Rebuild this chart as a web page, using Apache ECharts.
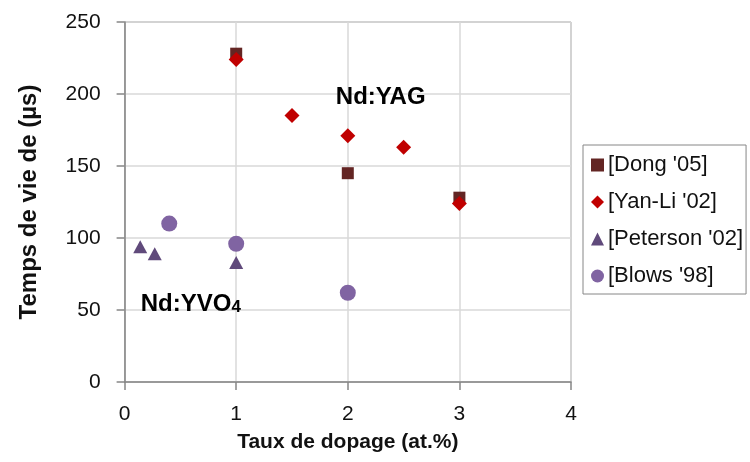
<!DOCTYPE html>
<html>
<head>
<meta charset="utf-8">
<title>Durée de vie de fluorescence</title>
<script src="https://cdn.jsdelivr.net/npm/echarts@6/dist/echarts.min.js"></script>
<style>
  html, body { margin: 0; padding: 0; background: #fff; }
  #chart { width: 750px; height: 462px; }
</style>
</head>
<body>
<div id="chart"></div>
<script>
// Lifetime (µs) versus Nd doping level (at.%)
const dongX = [1, 2, 3];
const dongY = [228, 145, 128];

const yanLiX = [1, 1.5, 2, 2.5, 3];
const yanLiY = [224, 185, 171, 163, 124];

const petersonX = [0.14, 0.27, 1];
const petersonY = [94, 89, 83];

const blowsX = [0.4, 1, 2];
const blowsY = [110, 96, 62];

const seriesNames = ["[Dong '05]", "[Yan-Li '02]", "[Peterson '02]", "[Blows '98]"];

const xTicks = [0, 1, 2, 3, 4];
const yTicks = [0, 50, 100, 150, 200, 250];

// Crystal labels placed in data coordinates
const crystalNames = ['Nd:YAG', 'Nd:YVO'];
const crystalX = [2.295, 0.145];
const crystalY = [198, 54];

const pairs = (xs, ys) => xs.map((x, i) => [x, ys[i]]);

const FONT = '"Liberation Sans", Arial, sans-serif';
const AXIS_GRAY = '#868686';
const TEXT = '#111111';

const chart = echarts.init(document.getElementById('chart'), null, { renderer: 'canvas' });

chart.setOption({
  animation: false,
  backgroundColor: '#ffffff',
  textStyle: { fontFamily: FONT, color: TEXT },
  grid: {
    left: 124.6, right: 179, top: 22, bottom: 80,
    show: true, borderColor: AXIS_GRAY, borderWidth: 1, backgroundColor: 'transparent'
  },
  legend: {
    data: seriesNames,
    orient: 'vertical',
    left: 583, top: 145,
    padding: [9, 3, 7, 8],
    itemGap: 15,
    itemWidth: 13, itemHeight: 13,
    borderColor: AXIS_GRAY, borderWidth: 1,
    selectedMode: false,
    textStyle: { fontFamily: FONT, fontSize: 22, color: TEXT, padding: [0, 0, 0, -1] }
  },
  xAxis: {
    type: 'value',
    min: xTicks[0], max: xTicks[xTicks.length - 1], interval: 1,
    name: 'Taux de dopage (at.%)',
    nameLocation: 'middle',
    nameGap: 50,
    nameTextStyle: { fontFamily: FONT, fontSize: 21, fontWeight: 'bold', color: TEXT },
    axisLine: { show: true, lineStyle: { color: AXIS_GRAY, width: 1.5 } },
    axisTick: { show: true, length: 8, lineStyle: { color: AXIS_GRAY, width: 1.5 } },
    axisLabel: { margin: 22, fontSize: 21, color: TEXT, fontFamily: FONT,
      formatter: v => xTicks.includes(v) ? String(v) : '' },
    splitLine: { show: true, lineStyle: { color: '#d9d9d9', width: 1.5 } }
  },
  yAxis: {
    type: 'value',
    min: yTicks[0], max: yTicks[yTicks.length - 1], interval: 50,
    name: 'Temps de vie de (µs)',
    nameLocation: 'middle',
    nameGap: 83,
    nameTextStyle: { fontFamily: FONT, fontSize: 24, fontWeight: 'bold', color: TEXT },
    axisLine: { show: true, lineStyle: { color: AXIS_GRAY, width: 1.5 } },
    axisTick: { show: true, length: 8, lineStyle: { color: AXIS_GRAY, width: 1.5 } },
    axisLabel: { margin: 24, fontSize: 21, color: TEXT, fontFamily: FONT,
      formatter: v => yTicks.includes(v) ? String(v) : '' },
    splitLine: { show: true, lineStyle: { color: '#d9d9d9', width: 1.5 } }
  },
  series: [
    {
      name: seriesNames[0], type: 'scatter', symbol: 'rect', symbolSize: 12,
      itemStyle: { color: '#632523', opacity: 1 }, data: pairs(dongX, dongY), z: 2
    },
    {
      name: seriesNames[1], type: 'scatter', symbol: 'diamond', symbolSize: 15,
      itemStyle: { color: '#c00000', opacity: 1 }, data: pairs(yanLiX, yanLiY), z: 3
    },
    {
      name: seriesNames[2], type: 'scatter', symbol: 'triangle', symbolSize: [14, 13],
      itemStyle: { color: '#604a7b', opacity: 1 }, data: pairs(petersonX, petersonY), z: 2
    },
    {
      name: seriesNames[3], type: 'scatter', symbol: 'circle', symbolSize: 16,
      itemStyle: { color: '#8064a2', opacity: 1 }, data: pairs(blowsX, blowsY), z: 2
    },
    {
      name: 'crystals', type: 'scatter', symbolSize: 0, silent: true, z: 5,
      itemStyle: { opacity: 1 },
      data: [
        {
          value: [crystalX[0], crystalY[0]],
          label: { show: true, position: 'inside', formatter: crystalNames[0],
            fontFamily: FONT, fontSize: 24, fontWeight: 'bold', color: '#000', opacity: 1 }
        },
        {
          value: [crystalX[1], crystalY[1]],
          label: {
            show: true, position: 'right', distance: 0, opacity: 1,
            formatter: '{a|' + crystalNames[1] + '}{b|4}',
            rich: {
              a: { fontFamily: FONT, fontSize: 24, fontWeight: 'bold', color: '#000',
                lineHeight: 24, verticalAlign: 'top' },
              b: { fontFamily: FONT, fontSize: 17, fontWeight: 'bold', color: '#000',
                lineHeight: 17, padding: [16, 0, 0, 0], verticalAlign: 'bottom' }
            }
          }
        }
      ]
    }
  ]
});
</script>
</body>
</html>
